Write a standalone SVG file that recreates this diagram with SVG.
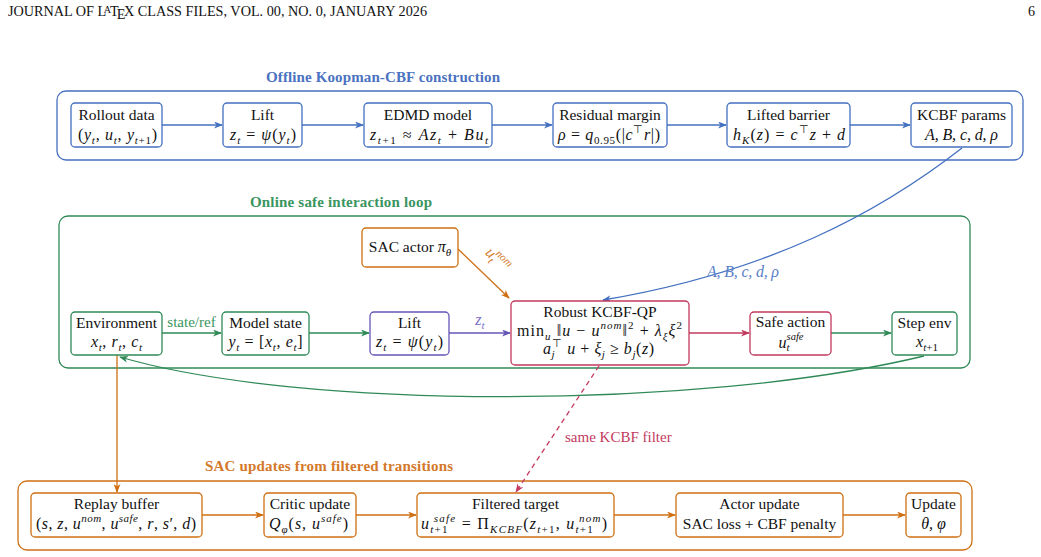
<svg xmlns="http://www.w3.org/2000/svg" width="1041" height="557" viewBox="0 0 1041 557">
<style>
.hdr{font-family:"Liberation Serif",serif;font-size:14px;fill:#111}
.t{font-family:"Liberation Serif",serif;font-size:15.5px;fill:#111;text-anchor:middle}
.m{font-size:16px}
.i{font-style:italic}
.s{font-size:11px}
.ttl{font-family:"Liberation Serif",serif;font-weight:bold;font-size:15px;text-anchor:middle}
.lbl{font-family:"Liberation Serif",serif;font-size:15px}
.grp{fill:none;stroke-width:1.3}
.nb{fill:#fff;stroke-width:1.3}
.c{fill:none;stroke-width:1.3}
.bl{stroke:#4470c0}.gr{stroke:#2f8a57}.or{stroke:#cf6f12}.cr{stroke:#c23a5e}.pu{stroke:#6656b8}
</style>
<defs>
<marker id="ab" markerUnits="userSpaceOnUse" markerWidth="9" markerHeight="7" refX="8" refY="3.5" orient="auto"><path d="M0,0 L9,3.5 L0,7 L2.5,3.5 z" fill="#4470c0"/></marker>
<marker id="ag" markerUnits="userSpaceOnUse" markerWidth="9" markerHeight="7" refX="8" refY="3.5" orient="auto"><path d="M0,0 L9,3.5 L0,7 L2.5,3.5 z" fill="#2f8a57"/></marker>
<marker id="ao" markerUnits="userSpaceOnUse" markerWidth="9" markerHeight="7" refX="8" refY="3.5" orient="auto"><path d="M0,0 L9,3.5 L0,7 L2.5,3.5 z" fill="#cf6f12"/></marker>
<marker id="ac" markerUnits="userSpaceOnUse" markerWidth="9" markerHeight="7" refX="8" refY="3.5" orient="auto"><path d="M0,0 L9,3.5 L0,7 L2.5,3.5 z" fill="#c23a5e"/></marker>
<marker id="ap" markerUnits="userSpaceOnUse" markerWidth="9" markerHeight="7" refX="8" refY="3.5" orient="auto"><path d="M0,0 L9,3.5 L0,7 L2.5,3.5 z" fill="#6656b8"/></marker>
</defs>
<rect width="1041" height="557" fill="#fff"/>
<g id="header">
<text class="hdr" x="8" y="16" textLength="419" lengthAdjust="spacingAndGlyphs">JOURNAL OF L<tspan dx="-2.5" dy="-3" font-size="10">A</tspan><tspan dx="-1" dy="3">T</tspan><tspan dx="-2" dy="3">E</tspan><tspan dx="-1.5" dy="-3">X CLASS FILES, VOL. 00, NO. 0, JANUARY 2026</tspan></text>
<text class="hdr" x="1028" y="16">6</text>
</g>

<g id="group-offline">
<rect class="grp bl" x="57" y="91" width="966" height="69" rx="9"/>
<text class="ttl" x="383" y="82" fill="#4a72c0" textLength="234">Offline Koopman-CBF construction</text>
</g>
<g id="group-online">
<rect class="grp gr" x="59" y="216" width="911" height="152" rx="9"/>
<text class="ttl" x="341" y="207" fill="#3a9560" textLength="182">Online safe interaction loop</text>
</g>
<g id="group-sac">
<rect class="grp or" x="18" y="481" width="954" height="69" rx="9"/>
<text class="ttl" x="329" y="471" fill="#d4782a" textLength="248">SAC updates from filtered transitions</text>
</g>

<g id="connectors">
<line class="c bl" x1="162" y1="125" x2="222" y2="125" marker-end="url(#ab)"/>
<line class="c bl" x1="302" y1="125" x2="363" y2="125" marker-end="url(#ab)"/>
<line class="c bl" x1="492" y1="125" x2="552" y2="125" marker-end="url(#ab)"/>
<line class="c bl" x1="667" y1="125" x2="726" y2="125" marker-end="url(#ab)"/>
<line class="c bl" x1="850" y1="125" x2="910" y2="125" marker-end="url(#ab)"/>
<path class="c bl" d="M962,148 C880,212 770,272 603,300" marker-end="url(#ab)"/>
<text x="743" y="277" font-family="Liberation Serif,serif" font-size="16" font-style="italic" fill="#5a80c8" text-anchor="middle" textLength="72">A, B, c, d, ρ</text>

<line class="c or" x1="458" y1="249" x2="509" y2="298" marker-end="url(#ao)"/>
<text transform="translate(494,263) rotate(45)" font-family="Liberation Serif,serif" font-size="16" fill="#d4782a" text-anchor="middle"><tspan font-style="italic">u</tspan><tspan font-size="11" font-style="italic" dy="4">t</tspan><tspan font-size="11" font-style="italic" dx="-3" dy="-11">nom</tspan></text>

<line class="c gr" x1="162" y1="333" x2="221" y2="333" marker-end="url(#ag)"/>
<text class="lbl" x="191.5" y="327" fill="#3a9560" text-anchor="middle">state/ref</text>
<line class="c gr" x1="309" y1="333" x2="369" y2="333" marker-end="url(#ag)"/>
<line class="c pu" x1="449" y1="333" x2="510" y2="333" marker-end="url(#ap)"/>
<text x="480" y="325" font-family="Liberation Serif,serif" font-size="16" font-style="italic" fill="#7a70c8" text-anchor="middle">z<tspan font-size="11" dy="4">t</tspan></text>
<line class="c cr" x1="689" y1="333" x2="749" y2="333" marker-end="url(#ac)"/>
<line class="c gr" x1="831" y1="333" x2="891" y2="333" marker-end="url(#ag)"/>
<path class="c gr" d="M924,356 C700,410 300,410 120,357" marker-end="url(#ag)"/>

<line class="c or" x1="117" y1="355" x2="117" y2="492" marker-end="url(#ao)"/>
<line class="c cr" x1="599" y1="366" x2="516" y2="492" stroke-dasharray="5,4" marker-end="url(#ac)"/>
<text class="lbl" x="565" y="442" fill="#c23a5e">same KCBF filter</text>

<line class="c or" x1="202" y1="515" x2="263" y2="515" marker-end="url(#ao)"/>
<line class="c or" x1="356" y1="515" x2="416" y2="515" marker-end="url(#ao)"/>
<line class="c or" x1="614" y1="515" x2="675" y2="515" marker-end="url(#ao)"/>
<line class="c or" x1="843" y1="515" x2="905" y2="515" marker-end="url(#ao)"/>
</g>

<g id="n-rollout">
<rect class="nb bl" x="71" y="103" width="91" height="44" rx="4"/>
<text class="t" x="116.5" y="120">Rollout data</text>
<text class="t m" x="117.5" y="140" textLength="79">(<tspan class="i">y</tspan><tspan class="s i" dy="4">t</tspan><tspan dy="-4">, </tspan><tspan class="i">u</tspan><tspan class="s i" dy="4">t</tspan><tspan dy="-4">, </tspan><tspan class="i">y</tspan><tspan class="s" dy="4"><tspan class="i">t</tspan>+1</tspan><tspan dy="-4">)</tspan></text>
</g>
<g id="n-lift1">
<rect class="nb bl" x="223" y="103" width="79" height="44" rx="4"/>
<text class="t" x="262.5" y="120">Lift</text>
<text class="t m" x="263" y="140" textLength="66"><tspan class="i">z</tspan><tspan class="s i" dy="4">t</tspan><tspan dy="-4"> = </tspan><tspan class="i">ψ</tspan>(<tspan class="i">y</tspan><tspan class="s i" dy="4">t</tspan><tspan dy="-4">)</tspan></text>
</g>
<g id="n-edmd">
<rect class="nb bl" x="364" y="103" width="128" height="44" rx="4"/>
<text class="t" x="428" y="120">EDMD model</text>
<text class="t m" x="429" y="140" textLength="118"><tspan class="i">z</tspan><tspan class="s" dy="4"><tspan class="i">t</tspan>+1</tspan><tspan dy="-4"> ≈ </tspan><tspan class="i">Az</tspan><tspan class="s i" dy="4">t</tspan><tspan dy="-4"> + </tspan><tspan class="i">Bu</tspan><tspan class="s i" dy="4">t</tspan></text>
</g>
<g id="n-residual">
<rect class="nb bl" x="553" y="103" width="114" height="44" rx="4"/>
<text class="t" x="610" y="120">Residual margin</text>
<text class="t m" x="609" y="140" textLength="102"><tspan class="i">ρ</tspan> = <tspan class="i">q</tspan><tspan class="s" dy="4">0.95</tspan><tspan dy="-4">(|</tspan><tspan class="i">c</tspan><tspan class="s" dy="-7">⊤</tspan><tspan class="i" dy="7">r</tspan>|)</text>
</g>
<g id="n-barrier">
<rect class="nb bl" x="727" y="103" width="123" height="44" rx="4"/>
<text class="t" x="788.5" y="120">Lifted barrier</text>
<text class="t m" x="789" y="140" textLength="112"><tspan class="i">h</tspan><tspan class="s i" dy="4">K</tspan><tspan dy="-4">(</tspan><tspan class="i">z</tspan>) = <tspan class="i">c</tspan><tspan class="s" dy="-7">⊤</tspan><tspan class="i" dy="7">z</tspan> + <tspan class="i">d</tspan></text>
</g>
<g id="n-params">
<rect class="nb bl" x="911" y="103" width="101" height="44" rx="4"/>
<text class="t" x="961.5" y="120">KCBF params</text>
<text class="t m i" x="961.5" y="140" textLength="73">A, B, c, d, ρ</text>
</g>

<g id="n-actor">
<rect class="nb or" x="362" y="228" width="96" height="39" rx="4"/>
<text class="t" x="410" y="252">SAC actor <tspan class="i m">π</tspan><tspan class="s i" dy="4">θ</tspan></text>
</g>
<g id="n-env">
<rect class="nb gr" x="71" y="312" width="91" height="43" rx="4"/>
<text class="t" x="116.5" y="328">Environment</text>
<text class="t m" x="116.5" y="347" textLength="51"><tspan class="i">x</tspan><tspan class="s i" dy="4">t</tspan><tspan dy="-4">, </tspan><tspan class="i">r</tspan><tspan class="s i" dy="4">t</tspan><tspan dy="-4">, </tspan><tspan class="i">c</tspan><tspan class="s i" dy="4">t</tspan></text>
</g>
<g id="n-model">
<rect class="nb gr" x="222" y="312" width="87" height="43" rx="4"/>
<text class="t" x="265.5" y="328">Model state</text>
<text class="t m" x="265.5" y="347" textLength="74"><tspan class="i">y</tspan><tspan class="s i" dy="4">t</tspan><tspan dy="-4"> = [</tspan><tspan class="i">x</tspan><tspan class="s i" dy="4">t</tspan><tspan dy="-4">, </tspan><tspan class="i">e</tspan><tspan class="s i" dy="4">t</tspan><tspan dy="-4">]</tspan></text>
</g>
<g id="n-lift2">
<rect class="nb pu" x="370" y="312" width="79" height="43" rx="4"/>
<text class="t" x="409.5" y="328">Lift</text>
<text class="t m" x="409.5" y="347" textLength="67"><tspan class="i">z</tspan><tspan class="s i" dy="4">t</tspan><tspan dy="-4"> = </tspan><tspan class="i">ψ</tspan>(<tspan class="i">y</tspan><tspan class="s i" dy="4">t</tspan><tspan dy="-4">)</tspan></text>
</g>
<g id="n-qp">
<rect class="nb cr" x="511" y="301" width="178" height="64" rx="4"/>
<text class="t" x="600" y="317">Robust KCBF-QP</text>
<text class="t m" x="599.5" y="336" textLength="165">min<tspan class="s i" dy="4">u</tspan><tspan dy="-4"> ‖</tspan><tspan class="i">u</tspan> − <tspan class="i">u</tspan><tspan class="s i" dy="-7">nom</tspan><tspan dy="7">‖</tspan><tspan class="s" dy="-7">2</tspan><tspan dy="7"> + </tspan><tspan class="i">λ</tspan><tspan class="s i" dy="4">ξ</tspan><tspan class="i" dy="-4">ξ</tspan><tspan class="s" dy="-7">2</tspan></text>
<text class="t m" x="598.5" y="354" textLength="111"><tspan class="i">a</tspan><tspan class="s i" dy="4">j</tspan><tspan class="s" dx="-3" dy="-11">⊤</tspan><tspan class="i" dy="7"> u</tspan> + <tspan class="i">ξ</tspan><tspan class="s i" dy="4">j</tspan><tspan dy="-4"> ≥ </tspan><tspan class="i">b</tspan><tspan class="s i" dy="4">j</tspan><tspan dy="-4">(</tspan><tspan class="i">z</tspan>)</text>
</g>
<g id="n-safe">
<rect class="nb cr" x="750" y="312" width="81" height="43" rx="4"/>
<text class="t" x="790.5" y="327">Safe action</text>
<text class="t m" x="791" y="348"><tspan class="i">u</tspan><tspan class="s i" dy="3">t</tspan><tspan class="i" font-size="10.5" dx="-3" dy="-11">safe</tspan></text>
</g>
<g id="n-step">
<rect class="nb gr" x="892" y="312" width="65" height="43" rx="4"/>
<text class="t" x="924.5" y="328">Step env</text>
<text class="t m" x="927" y="347"><tspan class="i">x</tspan><tspan class="s" dy="4"><tspan class="i">t</tspan>+1</tspan></text>
</g>

<g id="n-replay">
<rect class="nb or" x="31" y="493" width="171" height="44" rx="4"/>
<text class="t" x="116.5" y="509">Replay buffer</text>
<text class="t m" x="116" y="529" textLength="160">(<tspan class="i">s</tspan>, <tspan class="i">z</tspan>, <tspan class="i">u</tspan><tspan class="s i" dy="-7">nom</tspan><tspan dy="7">, </tspan><tspan class="i">u</tspan><tspan class="s i" dy="-7">safe</tspan><tspan dy="7">, </tspan><tspan class="i">r</tspan>, <tspan class="i">s</tspan>′, <tspan class="i">d</tspan>)</text>
</g>
<g id="n-critic">
<rect class="nb or" x="264" y="493" width="92" height="44" rx="4"/>
<text class="t" x="310" y="509">Critic update</text>
<text class="t m" x="308.5" y="529" textLength="79"><tspan class="i">Q</tspan><tspan class="s i" dy="4">φ</tspan><tspan dy="-4">(</tspan><tspan class="i">s</tspan>, <tspan class="i">u</tspan><tspan class="s i" dy="-7">safe</tspan><tspan dy="7">)</tspan></text>
</g>
<g id="n-filtered">
<rect class="nb or" x="417" y="493" width="197" height="44" rx="4"/>
<text class="t" x="515.5" y="509">Filtered target</text>
<text class="t m" x="514" y="529" textLength="186"><tspan class="i">u</tspan><tspan class="s" dy="4"><tspan class="i">t</tspan>+1</tspan><tspan class="s i" dx="-15" dy="-11">safe</tspan><tspan dy="7"> = Π</tspan><tspan class="s i" dy="4">KCBF</tspan><tspan dy="-4">(</tspan><tspan class="i">z</tspan><tspan class="s" dy="4"><tspan class="i">t</tspan>+1</tspan><tspan dy="-4">, </tspan><tspan class="i">u</tspan><tspan class="s" dy="4"><tspan class="i">t</tspan>+1</tspan><tspan class="s i" dx="-15" dy="-11">nom</tspan><tspan dy="7">)</tspan></text>
</g>
<g id="n-actorupd">
<rect class="nb or" x="676" y="493" width="167" height="44" rx="4"/>
<text class="t" x="759.5" y="509">Actor update</text>
<text class="t" x="759.5" y="529">SAC loss + CBF penalty</text>
</g>
<g id="n-update">
<rect class="nb or" x="906" y="493" width="55" height="44" rx="4"/>
<text class="t" x="933.5" y="509">Update</text>
<text class="t m i" x="933.5" y="529">θ, φ</text>
</g>
</svg>
